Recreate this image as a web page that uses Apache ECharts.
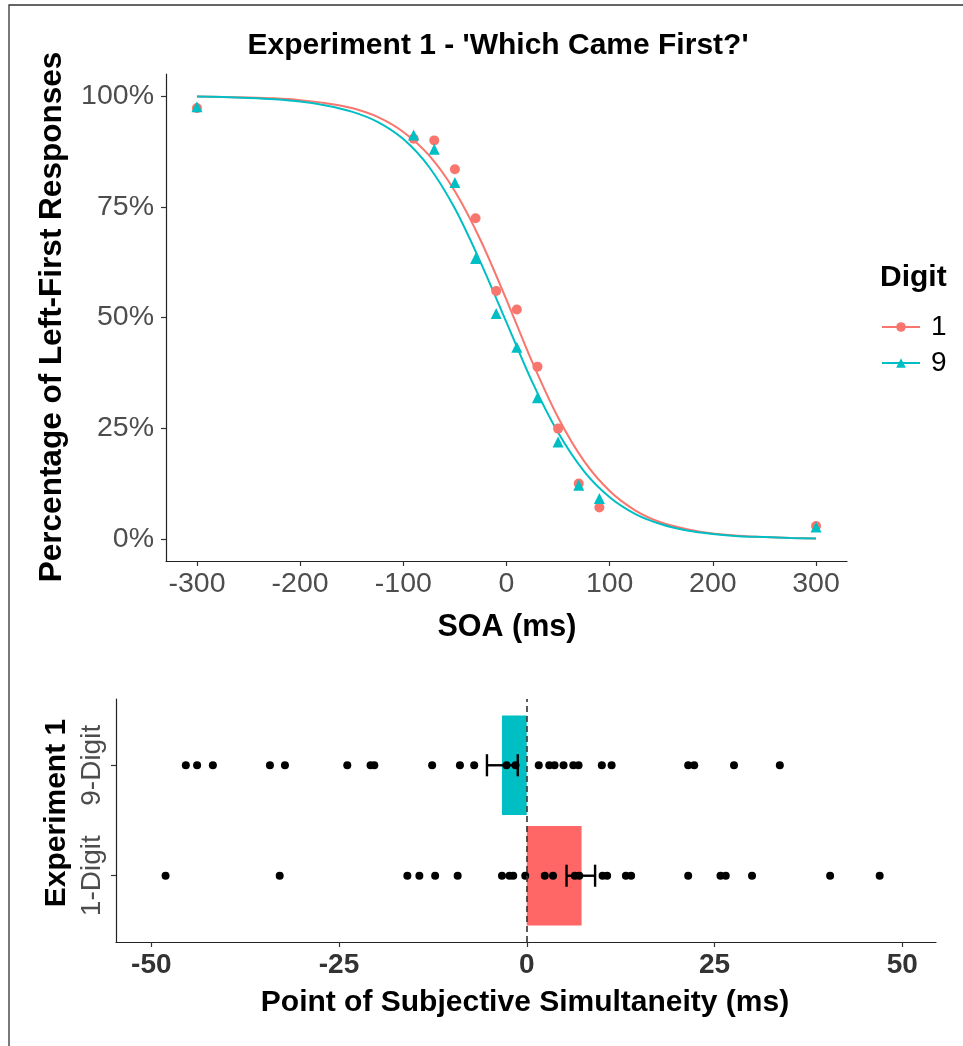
<!DOCTYPE html>
<html>
<head>
<meta charset="utf-8">
<script src="https://cdn.jsdelivr.net/npm/echarts@6/dist/echarts.min.js"></script>
<style>
html,body{margin:0;padding:0;background:#fff;}
#c{width:963px;height:1046px;}
</style>
</head>
<body>
<div id="c"></div>
<script>
// ---- Top panel: psychometric data ----
const soa = [-300, -90, -70, -50, -30, -10, 10, 30, 50, 70, 90, 300];
const pctDigit1 = [97.3, 90.4, 90.0, 83.5, 72.4, 56.0, 51.8, 38.9, 24.9, 12.5, 7.1, 2.9];
const pctDigit9 = [97.6, 91.2, 88.0, 80.5, 63.3, 50.9, 43.3, 31.9, 21.9, 12.1, 9.1, 2.7];
// fitted curves (every 25 ms)
const curveX = [-300, -275, -250, -225, -200, -175, -150, -125, -100, -75, -50, -25, 0, 25, 50, 75, 100, 125, 150, 175, 200, 225, 250, 275, 300];
const curveDigit1 = [99.9, 99.8, 99.7, 99.5, 99.1, 98.4, 97.3, 95.3, 91.9, 86.6, 78.5, 67.4, 54.0, 39.9, 27.4, 17.6, 10.8, 6.4, 3.7, 2.2, 1.2, 0.7, 0.4, 0.2, 0.1];
const curveDigit9 = [99.9, 99.8, 99.6, 99.3, 98.8, 97.9, 96.5, 94.2, 90.3, 84.0, 74.6, 62.4, 48.9, 35.4, 24.0, 15.3, 9.4, 5.6, 3.3, 1.9, 1.1, 0.6, 0.4, 0.2, 0.1];
const soaTicks = [-300, -200, -100, 0, 100, 200, 300];
const pctTicks = [0, 25, 50, 75, 100];

// ---- Bottom panel: PSS ----
const pssCategories = ['1-Digit', '9-Digit'];
const pssMean = [7.3, -3.3];
const pssLow = [5.3, -5.3];
const pssHigh = [9.1, -1.2];
const pssDigit1 = [-48.1, -32.9, -15.9, -14.3, -12.2, -9.2, -3.3, -2.3, -1.8, -0.2, 2.4, 3.5, 6.4, 7.0, 10.1, 10.7, 13.2, 13.9, 21.5, 25.8, 26.5, 30.0, 40.4, 47.0];
const pssDigit9 = [-45.4, -43.9, -41.8, -34.2, -32.2, -23.9, -20.8, -20.3, -12.6, -8.9, -7.0, -2.7, -1.5, 1.6, 3.0, 3.7, 4.9, 6.2, 6.9, 10.0, 11.3, 21.5, 22.3, 27.6, 33.7];
const pssTicks = [-50, -25, 0, 25, 50];

const RED = '#F8766D', TEAL = '#00BFC4', BARRED = '#FF6666';
const FONT = 'Liberation Sans, Arial, sans-serif';

const chart = echarts.init(document.getElementById('c'), null, {renderer: 'canvas'});

const zip = (a, b) => a.map((v, i) => [v, b[i]]);
const catVal = (c) => pssCategories.indexOf(c) + 1;

const axisCommon = {
  axisLine: {show: true, onZero: false, lineStyle: {color: '#222', width: 1.2}},
  axisTick: {show: true, length: 5, lineStyle: {color: '#333', width: 1.2}},
  splitLine: {show: false}
};

const option = {
  animation: false,
  backgroundColor: '#fff',
  textStyle: {fontFamily: FONT},
  grid: [
    {left: 166, top: 74, width: 681, height: 487},
    {left: 116, top: 699, width: 820, height: 243}
  ],
  xAxis: [
    Object.assign({}, axisCommon, {
      gridIndex: 0, type: 'value', min: -330, max: 330,
      axisTick: Object.assign({}, axisCommon.axisTick, {customValues: soaTicks}),
      axisLabel: {customValues: soaTicks, color: '#4D4D4D', fontSize: 28.5, margin: 9, fontFamily: FONT}
    }),
    Object.assign({}, axisCommon, {
      gridIndex: 1, type: 'value', min: -54.7, max: 54.5,
      axisTick: Object.assign({}, axisCommon.axisTick, {customValues: pssTicks}),
      axisLabel: {customValues: pssTicks, color: '#333', fontSize: 28, fontWeight: 'bold', margin: 9, fontFamily: FONT}
    })
  ],
  yAxis: [
    Object.assign({}, axisCommon, {
      gridIndex: 0, type: 'value', min: -5, max: 105,
      axisTick: Object.assign({}, axisCommon.axisTick, {customValues: pctTicks}),
      axisLabel: {customValues: pctTicks, formatter: '{value}%', color: '#4D4D4D', fontSize: 28.5, margin: 12, fontFamily: FONT}
    }),
    Object.assign({}, axisCommon, {
      gridIndex: 1, type: 'value', min: 0.4, max: 2.6,
      axisTick: Object.assign({}, axisCommon.axisTick, {customValues: [1, 2]}),
      axisLabel: {customValues: [1, 2], formatter: (v) => pssCategories[Math.round(v) - 1] || '', rotate: 90,
        color: '#4D4D4D', fontSize: 28, margin: 10, fontFamily: FONT}
    })
  ],
  legend: {
    orient: 'vertical', left: 876, top: 308, itemWidth: 38, itemHeight: 12, itemGap: 8,
    data: ['1', '9'],
    textStyle: {fontSize: 28, color: '#000', fontFamily: FONT, padding: [0, 0, 0, 6]},
    selectedMode: false
  },
  graphic: [
    {type: 'rect', shape: {x: 9, y: 5, width: 1200, height: 1200}, style: {fill: 'none', stroke: '#333', lineWidth: 1.3}, silent: true},
    {type: 'text', x: 498, y: 46, style: {text: "Experiment 1 - 'Which Came First?'", font: 'bold 30px ' + FONT, fill: '#000', textAlign: 'center', textVerticalAlign: 'middle'}},
    {type: 'text', x: 52, y: 317, rotation: Math.PI / 2, style: {text: 'Percentage of Left-First Responses', font: 'bold 31.5px ' + FONT, fill: '#000', textAlign: 'center', textVerticalAlign: 'middle'}},
    {type: 'text', x: 507, y: 628, style: {text: 'SOA (ms)', font: 'bold 30.5px ' + FONT, fill: '#000', textAlign: 'center', textVerticalAlign: 'middle'}},
    {type: 'text', x: 880, y: 278, style: {text: 'Digit', font: 'bold 30px ' + FONT, fill: '#000', textAlign: 'left', textVerticalAlign: 'middle'}},
    {type: 'text', x: 57, y: 813, rotation: Math.PI / 2, style: {text: 'Experiment 1', font: 'bold 30px ' + FONT, fill: '#000', textAlign: 'center', textVerticalAlign: 'middle'}},
    {type: 'text', x: 525, y: 1003, style: {text: 'Point of Subjective Simultaneity (ms)', font: 'bold 30px ' + FONT, fill: '#000', textAlign: 'center', textVerticalAlign: 'middle'}}
  ],
  series: [
    {name: '1', type: 'line', xAxisIndex: 0, yAxisIndex: 0, data: zip(curveX, curveDigit1), smooth: 0.3,
     showSymbol: false, symbol: 'circle', symbolSize: 10, lineStyle: {color: RED, width: 2}, itemStyle: {color: RED}, z: 2},
    {name: '9', type: 'line', xAxisIndex: 0, yAxisIndex: 0, data: zip(curveX, curveDigit9), smooth: 0.3,
     showSymbol: false, symbol: 'triangle', symbolSize: 11, lineStyle: {color: TEAL, width: 2}, itemStyle: {color: TEAL}, z: 3},
    {name: 'pts1', type: 'scatter', xAxisIndex: 0, yAxisIndex: 0, data: zip(soa, pctDigit1), symbol: 'circle', symbolSize: 10,
     itemStyle: {color: RED, opacity: 1}, z: 4},
    {name: 'pts9', type: 'scatter', xAxisIndex: 0, yAxisIndex: 0, data: zip(soa, pctDigit9), symbol: 'triangle', symbolSize: 11,
     itemStyle: {color: TEAL, opacity: 1}, z: 5},
    // bottom: bars
    {name: 'bars', type: 'custom', xAxisIndex: 1, yAxisIndex: 1,
     data: pssCategories.map((c, i) => ({value: [pssMean[i], catVal(c)], itemStyle: {color: i === 0 ? BARRED : TEAL}})),
     renderItem: (params, api) => {
       const p0 = api.coord([0, api.value(1)]);
       const p1 = api.coord([api.value(0), api.value(1)]);
       const h = api.size([0, 0.9])[1];
       return {type: 'rect', shape: {x: Math.min(p0[0], p1[0]), y: p0[1] - h / 2, width: Math.abs(p1[0] - p0[0]), height: h},
               style: {fill: api.visual('color')}};
     }, z: 1},
    {name: 'dots', type: 'scatter', xAxisIndex: 1, yAxisIndex: 1,
     data: pssDigit1.map(v => [v, catVal('1-Digit')]).concat(pssDigit9.map(v => [v, catVal('9-Digit')])),
     symbolSize: 8, itemStyle: {color: '#000', opacity: 1}, z: 3,
     markLine: {silent: true, symbol: 'none', label: {show: false}, data: [{xAxis: 0}],
       lineStyle: {color: '#333', type: [6, 4], width: 1.6}}},
    {name: 'err', type: 'custom', xAxisIndex: 1, yAxisIndex: 1,
     data: pssCategories.map((c, i) => [pssLow[i], pssHigh[i], catVal(c)]),
     renderItem: (params, api) => {
       const a = api.coord([api.value(0), api.value(2)]);
       const b = api.coord([api.value(1), api.value(2)]);
       const cap = api.size([0, 0.2])[1] / 2;
       const st = {stroke: '#000', lineWidth: 2.4};
       return {type: 'group', children: [
         {type: 'line', shape: {x1: a[0], y1: a[1], x2: b[0], y2: b[1]}, style: st},
         {type: 'line', shape: {x1: a[0], y1: a[1] - cap, x2: a[0], y2: a[1] + cap}, style: st},
         {type: 'line', shape: {x1: b[0], y1: b[1] - cap, x2: b[0], y2: b[1] + cap}, style: st}
       ]};
     }, z: 5}
  ]
};
chart.setOption(option);
</script>
</body>
</html>
